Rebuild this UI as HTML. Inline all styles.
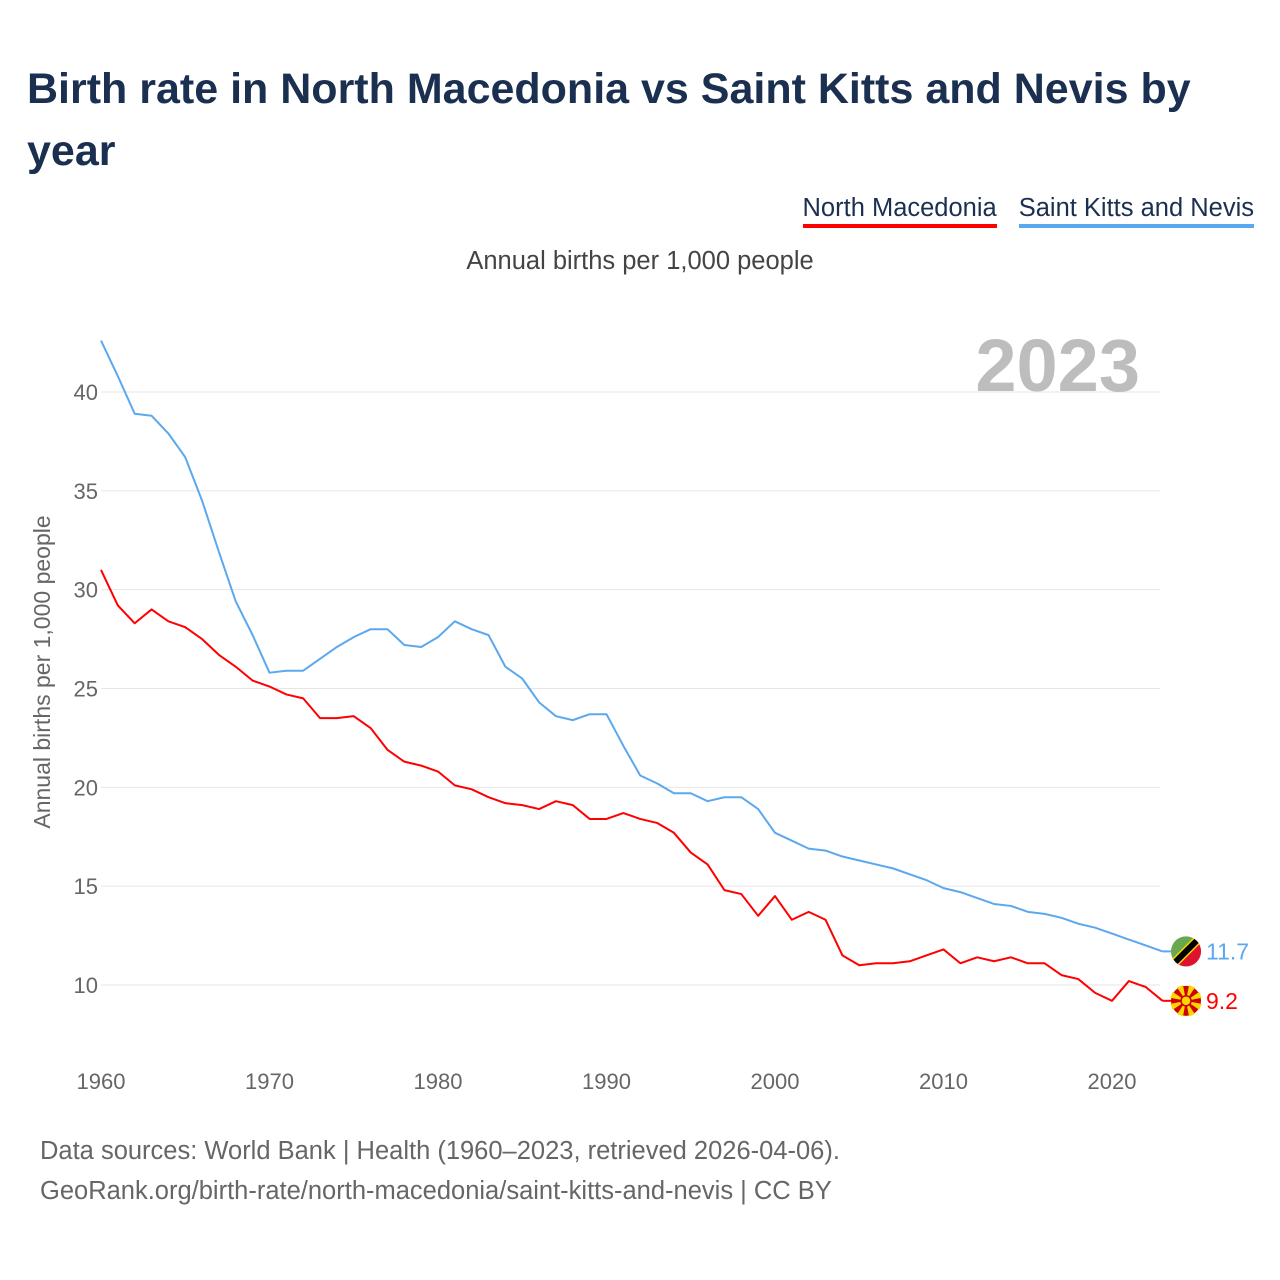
<!DOCTYPE html>
<html><head><meta charset="utf-8">
<style>
body{margin:0;background:#fff;font-family:"Liberation Sans",sans-serif;}
#wrap{position:relative;width:1280px;height:1280px;overflow:hidden;}
h1{position:absolute;left:27px;top:58px;margin:0;width:1230px;font-size:43px;line-height:62px;color:#1b3050;font-weight:bold;}
#legend{position:absolute;right:26px;top:194px;display:flex;gap:22px;}
.leg{font-size:25.5px;color:#1b3050;padding-bottom:1px;}
.foot{position:absolute;left:40px;font-size:25.5px;color:#666;}
</style></head><body>
<div id="wrap">
<h1>Birth rate in North Macedonia vs Saint Kitts and Nevis by year</h1>
<div id="legend">
<div class="leg" style="border-bottom:4px solid #ff0000">North Macedonia</div>
<div class="leg" style="border-bottom:4px solid #5ba8ee">Saint Kitts and Nevis</div>
</div>
<div style="position:absolute;left:0;width:1280px;text-align:center;top:247px;font-size:25.5px;color:#444">Annual births per 1,000 people</div>
<svg id="chart" width="1280" height="1280" style="position:absolute;left:0;top:0">
<defs><clipPath id="kclip"><circle id="kc" cx="1186" cy="0" r="15"/></clipPath></defs>
</svg>
<div class="foot" style="top:1137px">Data sources: World Bank | Health (1960–2023, retrieved 2026-04-06).</div>
<div class="foot" style="top:1177px">GeoRank.org/birth-rate/north-macedonia/saint-kitts-and-nevis | CC BY</div>
</div>
<script>
const years=[];for(let y=1960;y<=2023;y++)years.push(y);
const kittsValues=[42.6,40.8,38.9,38.8,37.9,36.7,34.5,31.9,29.4,27.7,25.8,25.9,25.9,26.5,27.1,27.6,28.0,28.0,27.2,27.1,27.6,28.4,28.0,27.7,26.1,25.5,24.3,23.6,23.4,23.7,23.7,22.1,20.6,20.2,19.7,19.7,19.3,19.5,19.5,18.9,17.7,17.3,16.9,16.8,16.5,16.3,16.1,15.9,15.6,15.3,14.9,14.7,14.4,14.1,14.0,13.7,13.6,13.4,13.1,12.9,12.6,12.3,12.0,11.7];
const macedoniaValues=[31.0,29.2,28.3,29.0,28.4,28.1,27.5,26.7,26.1,25.4,25.1,24.7,24.5,23.5,23.5,23.6,23.0,21.9,21.3,21.1,20.8,20.1,19.9,19.5,19.2,19.1,18.9,19.3,19.1,18.4,18.4,18.7,18.4,18.2,17.7,16.7,16.1,14.8,14.6,13.5,14.5,13.3,13.7,13.3,11.5,11.0,11.1,11.1,11.2,11.5,11.8,11.1,11.4,11.2,11.4,11.1,11.1,10.5,10.3,9.6,9.2,10.2,9.9,9.2];
const yTicks=[10,15,20,25,30,35,40];
const xTicks=[1960,1970,1980,1990,2000,2010,2020];
const NS='http://www.w3.org/2000/svg';
const svg=document.getElementById('chart');
const xs=y=>101+(y-1960)*(1011/60);
const ys=v=>985-(v-10)*(593/30);
function el(t,a,p){const e=document.createElementNS(NS,t);for(const k in a)e.setAttribute(k,a[k]);(p||svg).appendChild(e);return e;}
yTicks.forEach(v=>{
 const g=el('line',{x1:101,x2:1160,y1:ys(v),y2:ys(v),stroke:'#e6e6e6','stroke-width':1});
 
 
 const t=el('text',{x:98,y:ys(v)+8,'text-anchor':'end','font-size':22,fill:'#666'});t.textContent=v;
 
 
});
xTicks.forEach(v=>{
 const t=el('text',{x:xs(v),y:1089,'text-anchor':'middle','font-size':22,fill:'#666'});t.textContent=v;
 
 
});
const yt=el('text',{x:0,y:0,transform:'translate(50,672) rotate(-90)','text-anchor':'middle','font-size':23,fill:'#666'});
yt.textContent='Annual births per 1,000 people';


const yr=el('text',{x:1140,y:391,'text-anchor':'end','font-size':74,'font-weight':'bold',fill:'#bdbdbd'});
yr.textContent='2023';


function series(vals,color,name,flagFill){
 const p=el('polyline',{points:vals.map((v,i)=>xs(years[i])+','+ys(v)).join(' '),fill:'none',stroke:color,'stroke-width':2,'stroke-linejoin':'round'});
 
 
 const last=vals[vals.length-1],ly=ys(last),lx=xs(2023);
 el('line',{x1:lx,x2:lx+10,y1:ly,y2:ly,stroke:color,'stroke-width':2});
 const c=el('circle',{cx:1186,cy:ly,r:15,fill:flagFill});
 
 
 const t=el('text',{x:1206,y:ly+8,'font-size':23,fill:color});t.textContent=last;
 
 
 return ly;
}
const ky=series(kittsValues,'#5ba8ee','saint-kitts','#6aa84f');
const cy=series(macedoniaValues,'#ff0000','north-macedonia','#d20000');
// macedonia flag sun
for(let k=0;k<8;k++){const a=k*Math.PI/4+Math.PI/8;el('path',{d:`M1186,${cy} L${1186+16*Math.cos(a-0.2)},${cy+16*Math.sin(a-0.2)} L${1186+16*Math.cos(a+0.2)},${cy+16*Math.sin(a+0.2)} Z`,fill:'#f8d800'});}
el('circle',{cx:1186,cy:cy,r:5,fill:'#f8d800',stroke:'#d20000','stroke-width':1.5});
// kitts flag
document.getElementById('kc').setAttribute('cy',ky);
const g=el('g',{'clip-path':'url(#kclip)'});
el('path',{d:`M${1186-16},${ky+16} L${1186+16},${ky-16} L${1186+16},${ky+16} Z`,fill:'#e0102f'},g);
el('line',{x1:1170,y1:ky+16,x2:1202,y2:ky-16,stroke:'#f8d800','stroke-width':9},g);
el('line',{x1:1170,y1:ky+16,x2:1202,y2:ky-16,stroke:'#000','stroke-width':6},g);
</script>
</body></html>
